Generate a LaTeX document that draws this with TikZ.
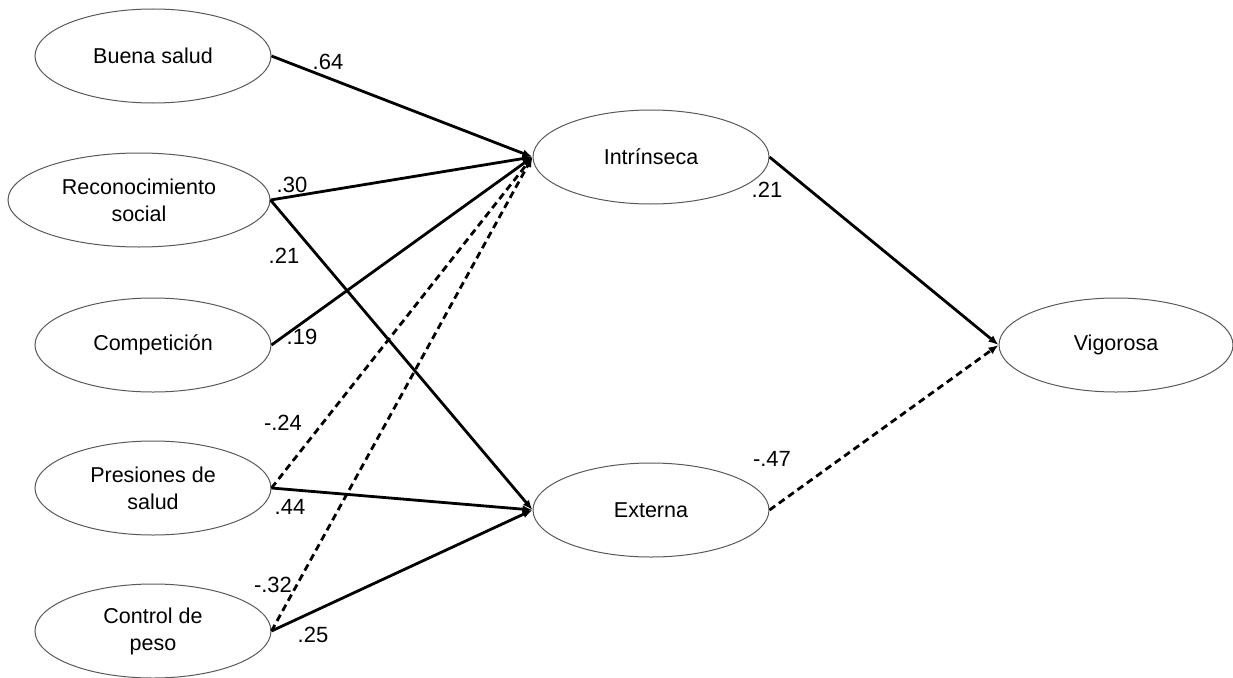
\documentclass[tikz,border=0pt]{standalone}
\usepackage{fontspec}
\setmainfont{Liberation Sans}
\usetikzlibrary{shapes.geometric,arrows.meta}
\begin{document}
\begin{tikzpicture}[x=1pt,y=-1pt,
  var/.style={ellipse,draw=black!65,line width=1pt,minimum width=236pt,minimum height=94pt,inner sep=0pt,align=center,font=\fontsize{21.5}{27}\selectfont},
  path/.style={line width=2.8pt,-{Latex[length=10pt,width=8pt]}},
  neg/.style={path,dash pattern=on 7pt off 4.5pt},
  coef/.style={font=\fontsize{22}{24}\selectfont,inner sep=0pt}]
\useasboundingbox (0,0) rectangle (1233,677);
\node[var] (bs) at (153,56) {Buena salud};
\node[var,minimum width=262pt] (rs) at (139,200) {Reconocimiento\\social};
\node[var] (co) at (153,345) {Competición};
\node[var] (ps) at (153,488) {Presiones de\\salud};
\node[var] (cp) at (153,631) {Control de\\peso};
\node[var] (in) at (651,157) {Intrínseca};
\node[var] (ex) at (651,510) {Externa};
\node[var,minimum width=234pt] (vi) at (1116,345) {Vigorosa};
\draw[path] (bs.east) -- (in.west);
\draw[path] (rs.east) -- (in.west);
\draw[path] (rs.east) -- (ex.west);
\draw[path] (co.east) -- (in.west);
\draw[neg] (ps.east) -- (in.west);
\draw[path] (ps.east) -- (ex.west);
\draw[neg] (cp.east) -- (in.west);
\draw[path] (cp.east) -- (ex.west);
\draw[path] (in.east) -- (vi.west);
\draw[neg] (ex.east) -- (vi.west);
\node[coef] (l1) at (328,62) {.64};
\node[coef] (l2) at (292,185) {.30};
\node[coef] (l3) at (284,256) {.21};
\node[coef] (l4) at (302,337) {.19};
\node[coef] (l5) at (283,423) {-.24};
\node[coef] (l6) at (290,507) {.44};
\node[coef] (l7) at (273,585) {-.32};
\node[coef] (l8) at (313,635) {.25};
\node[coef] (l9) at (767,190) {.21};
\node[coef] (l10) at (772,459) {-.47};
\end{tikzpicture}
\end{document}
